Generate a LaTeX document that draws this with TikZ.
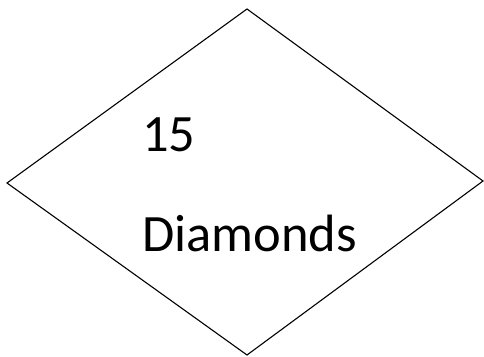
\documentclass[tikz,border=0pt]{standalone}
\usepackage{fontspec}
\setmainfont{Carlito}
\usetikzlibrary{positioning}
\begin{document}
\begin{tikzpicture}[x=1pt, y=1pt,
  edge/.style={draw=black, line width=1.1pt, line join=miter},
  lbl/.style={font=\fontsize{52.5}{60}\selectfont, inner sep=0pt, anchor=base west}]
\useasboundingbox (0,0) rectangle (484,356);

%% DIAMOND CORNERS
\coordinate (top)    at (247,347);
\coordinate (left)   at (7,173);
\coordinate (right)  at (483,175);
\coordinate (bottom) at (247,1);
\draw[edge] (top) -- (right) -- (bottom) -- (left) -- cycle;

%% TEXT
\node[lbl] (word) at (142,104) {Diamonds};
\node[lbl, above=100pt of word.base west, anchor=base west] (count) {15};
\end{tikzpicture}
\end{document}
